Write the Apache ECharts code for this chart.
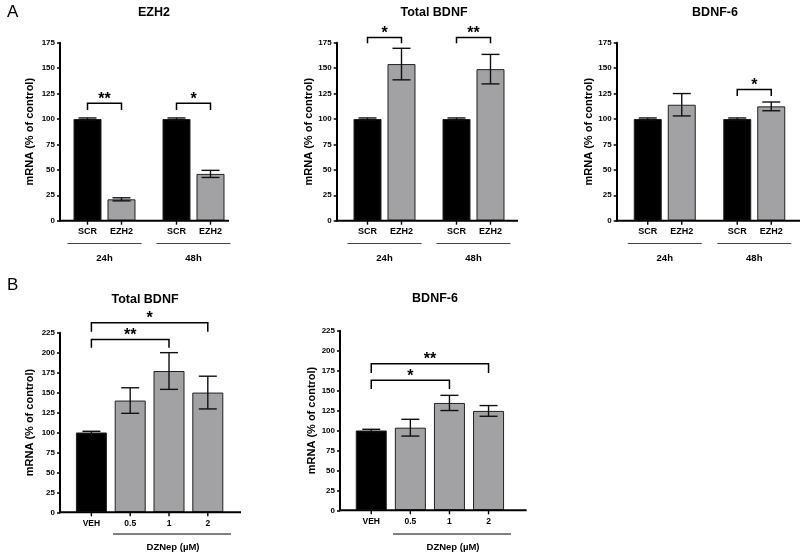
<!DOCTYPE html>
<html><head><meta charset="utf-8">
<script src="https://cdn.jsdelivr.net/npm/echarts@6/dist/echarts.min.js"></script>
<style>html,body{margin:0;padding:0;background:#fff}#c{width:800px;height:553px}</style>
</head><body><div id="c"></div>
<script>
// ---------- data ----------
const groupsA = ['24h', '48h'];
const barNamesA = ['SCR', 'EZH2'];
const ezh2Scr = [100, 100], ezh2ScrErr = [1, 1];
const ezh2Kd = [21, 46], ezh2KdErr = [1.5, 3.5];
const tbdnfScr = [100, 100], tbdnfScrErr = [1, 1];
const tbdnfKd = [154, 149], tbdnfKdErr = [15.5, 14.5];
const bdnf6Scr = [100, 100], bdnf6ScrErr = [1, 1];
const bdnf6Kd = [114, 112.4], bdnf6KdErr = [11, 4.3];
const dosesB = ['VEH', '0.5', '1', '2'];
const dzTotal = [100, 140, 177, 150], dzTotalErr = [1.5, 16, 23, 20.5];
const dzB6 = [100, 103.5, 134.5, 124.5], dzB6Err = [1.5, 10.5, 9.5, 6.7];
const yTicksA = [0, 175, 25];   // min, max, step
const yTicksB = [0, 225, 25];
// significance brackets: [fromCat, fromSlot, toCat, toSlot, lineY, dropY]
const ezh2Sig = [[0, 0, 0, 1, 115.4, 108.8], [1, 0, 1, 1, 115.4, 108.8]];
const ezh2SigLab = ['**', '*'];
const tbdnfSig = [[0, 0, 0, 1, 180, 174.4], [1, 0, 1, 1, 180, 174.4]];
const tbdnfSigLab = ['*', '**'];
const bdnf6Sig = [[1, 0, 1, 1, 129, 122.6]];
const bdnf6SigLab = ['*'];
const dzTotalSig = [[0, 0, 2, 0, 216.6, 206], [0, 0, 3, 0, 237.5, 226.2]];
const dzTotalSigLab = ['**', '*'];
const dzB6Sig = [[0, 0, 2, 0, 162.8, 152], [0, 0, 3, 0, 183.7, 172]];
const dzB6SigLab = ['*', '**'];

// ---------- style ----------
const FONT = '"Liberation Sans", Arial, Helvetica, sans-serif';
const BLACK = '#000';
const GRAY = '#a2a2a5';
const EDGE = '#222';

const chart = echarts.init(document.getElementById('c'), null, {renderer: 'canvas'});

const panels = [
  {title: 'EZH2', tx: 149, ty: 1, grid: {left: 60, top: 42.7, width: 178, height: 178}, yOff: 0, nameGap: 25, type: 'A',
   scr: ezh2Scr, scrErr: ezh2ScrErr, kd: ezh2Kd, kdErr: ezh2KdErr, sig: ezh2Sig, sigLab: ezh2SigLab, axEnd: 229},
  {title: 'Total BDNF', tx: 429, ty: 1, grid: {left: 340, top: 42.7, width: 178, height: 178}, yOff: 3.3, nameGap: 21, type: 'A',
   scr: tbdnfScr, scrErr: tbdnfScrErr, kd: tbdnfKd, kdErr: tbdnfKdErr, sig: tbdnfSig, sigLab: tbdnfSigLab, axEnd: 518},
  {title: 'BDNF-6', tx: 710, ty: 1, grid: {left: 620, top: 42.7, width: 179, height: 178}, yOff: 3.3, nameGap: 22, type: 'A',
   scr: bdnf6Scr, scrErr: bdnf6ScrErr, kd: bdnf6Kd, kdErr: bdnf6KdErr, sig: bdnf6Sig, sigLab: bdnf6SigLab, axEnd: 800},
  {title: 'Total BDNF', tx: 140, ty: 288, grid: {left: 72, top: 332.7, width: 155.2, height: 179.6}, yOff: 12, nameGap: 25, type: 'B',
   vals: dzTotal, errs: dzTotalErr, sig: dzTotalSig, sigLab: dzTotalSigLab, axEnd: 241, ulFrom: 113, ulTo: 231},
  {title: 'BDNF-6', tx: 430, ty: 287, grid: {left: 351.7, top: 330.7, width: 156.4, height: 179.6}, yOff: 11.7, nameGap: 22, type: 'B',
   vals: dzB6, errs: dzB6Err, sig: dzB6Sig, sigLab: dzB6SigLab, axEnd: 526.7, ulFrom: 393, ulTo: 511}
];

const grids = [], xAxes = [], yAxes = [], series = [], titles = [], graphics = [];

function errRenderer(offsets) {
  return function (params, api) {
    const g = api.value(0), s = api.value(1), m = api.value(2), e = api.value(3);
    const x = api.coord([g, m])[0] + offsets[s];
    const yT = api.coord([g, m + e])[1];
    const yB = api.coord([g, m - e])[1];
    const y0 = api.coord([g, 0])[1];
    const st = {stroke: '#111', lineWidth: 1.4};
    const hw = 9;
    return {type: 'group', children: [
      {type: 'line', shape: {x1: x, y1: yT, x2: x, y2: yB}, style: st},
      {type: 'line', shape: {x1: x - hw, y1: yT, x2: x + hw, y2: yT}, style: st},
      {type: 'line', shape: {x1: x - hw, y1: yB, x2: x + hw, y2: yB}, style: st},
      {type: 'line', shape: {x1: x, y1: y0, x2: x, y2: y0 + 4}, style: {stroke: '#000', lineWidth: 1.4}}
    ]};
  };
}
function sigRenderer(offsets, labels) {
  return function (params, api) {
    const ca = api.value(0), sa = api.value(1), cb = api.value(2), sb = api.value(3);
    const yl = api.value(4), yd = api.value(5);
    const xa = api.coord([ca, yl])[0] + offsets[sa];
    const xb = api.coord([cb, yl])[0] + offsets[sb];
    const py = api.coord([ca, yl])[1];
    const pd = api.coord([ca, yd])[1];
    const st = {stroke: '#000', lineWidth: 1.5, fill: null};
    return {type: 'group', children: [
      {type: 'polyline', shape: {points: [[xa, pd], [xa, py], [xb, py], [xb, pd]]}, style: st},
      {type: 'text', style: {text: labels[params.dataIndex], x: (xa + xb) / 2, y: py + 4,
        align: 'center', verticalAlign: 'bottom', font: 'bold 16px ' + FONT, fill: '#000'}}
    ]};
  };
}

panels.forEach((p, i) => {
  grids.push(p.grid);
  titles.push({text: p.title, left: p.tx, top: p.ty, textAlign: 'center',
    textStyle: {fontFamily: FONT, fontWeight: 'bold', fontSize: 12.5, color: '#000'}});
  const isA = p.type === 'A';
  const ticks = isA ? yTicksA : yTicksB;
  xAxes.push({
    type: 'category', gridIndex: i, data: isA ? groupsA : dosesB,
    axisLine: {show: false}, axisTick: {show: false},
    axisLabel: {margin: isA ? 33 : 7, fontFamily: FONT, fontWeight: 'bold', fontSize: isA ? 9.5 : 8.5, color: '#000'}
  });
  yAxes.push({
    type: 'value', gridIndex: i, min: ticks[0], max: ticks[1], interval: ticks[2], offset: p.yOff,
    name: 'mRNA (% of control)', nameLocation: 'middle', nameGap: p.nameGap,
    nameTextStyle: {fontFamily: FONT, fontWeight: 'bold', fontSize: 11, color: '#000'},
    axisLine: {show: true, lineStyle: {color: '#000', width: 2}},
    axisTick: {show: true, length: 3, lineStyle: {color: '#000', width: 1.5}},
    axisLabel: {margin: 5, fontFamily: FONT, fontWeight: 'bold', fontSize: 8, color: '#000'},
    splitLine: {show: false}
  });
  // x-axis baseline
  const y0 = p.grid.top + p.grid.height;
  graphics.push({type: 'line', shape: {x1: p.grid.left - p.yOff - 1, y1: y0, x2: p.axEnd, y2: y0},
    style: {stroke: '#000', lineWidth: 2}, z: 10});

  if (isA) {
    const offs = [-17, 17];
    const lbl = {show: true, position: 'bottom', distance: 6, formatter: '{a}',
      fontFamily: FONT, fontWeight: 'bold', fontSize: 9, color: '#000'};
    series.push({type: 'bar', name: barNamesA[0], xAxisIndex: i, yAxisIndex: i, data: p.scr,
      barWidth: 28, barGap: '21.4%', itemStyle: {color: BLACK, borderColor: EDGE, borderWidth: 1}, label: lbl, z: 2});
    series.push({type: 'bar', name: barNamesA[1], xAxisIndex: i, yAxisIndex: i, data: p.kd,
      barWidth: 28, barGap: '21.4%', itemStyle: {color: GRAY, borderColor: EDGE, borderWidth: 1}, label: lbl, z: 2});
    const ed = [];
    groupsA.forEach((g, gi) => {
      ed.push([gi, 0, p.scr[gi], p.scrErr[gi]]);
      ed.push([gi, 1, p.kd[gi], p.kdErr[gi]]);
    });
    series.push({type: 'custom', xAxisIndex: i, yAxisIndex: i, data: ed, renderItem: errRenderer(offs), clip: false, z: 5, silent: true});
    series.push({type: 'custom', xAxisIndex: i, yAxisIndex: i, data: p.sig, renderItem: sigRenderer(offs, p.sigLab), clip: false, z: 5, silent: true});
    // group underlines
    const cw = p.grid.width / groupsA.length;
    groupsA.forEach((g, gi) => {
      const cx = p.grid.left + cw * (gi + 0.5);
      graphics.push({type: 'line', shape: {x1: cx - 37, y1: 243.5, x2: cx + 37, y2: 243.5},
        style: {stroke: '#444', lineWidth: 1}});
    });
  } else {
    const offs = [0];
    series.push({type: 'bar', xAxisIndex: i, yAxisIndex: i, barWidth: 31,
      data: p.vals.map((v, k) => ({value: v, itemStyle: {color: k === 0 ? BLACK : GRAY}})),
      itemStyle: {borderColor: EDGE, borderWidth: 1}, z: 2});
    series.push({type: 'custom', xAxisIndex: i, yAxisIndex: i, data: p.vals.map((v, k) => [k, 0, v, p.errs[k]]),
      renderItem: errRenderer(offs), clip: false, z: 5, silent: true});
    series.push({type: 'custom', xAxisIndex: i, yAxisIndex: i, data: p.sig, renderItem: sigRenderer(offs, p.sigLab), clip: false, z: 5, silent: true});
    graphics.push({type: 'line', shape: {x1: p.ulFrom, y1: 534, x2: p.ulTo, y2: 534}, style: {stroke: '#000', lineWidth: 1}});
    graphics.push({type: 'text', x: (p.ulFrom + p.ulTo) / 2 + 1, y: 547,
      style: {text: 'DZNep (\u00b5M)', align: 'center', verticalAlign: 'middle', font: 'bold 9.5px ' + FONT, fill: '#000'}});
  }
});

graphics.push({type: 'text', x: 7, y: 12, style: {text: 'A', verticalAlign: 'middle', font: '17px ' + FONT, fill: '#000'}});
graphics.push({type: 'text', x: 7, y: 285, style: {text: 'B', verticalAlign: 'middle', font: '17px ' + FONT, fill: '#000'}});

chart.setOption({
  animation: false,
  backgroundColor: '#fff',
  title: titles,
  grid: grids,
  xAxis: xAxes,
  yAxis: yAxes,
  series: series,
  graphic: graphics
});
</script></body></html>
